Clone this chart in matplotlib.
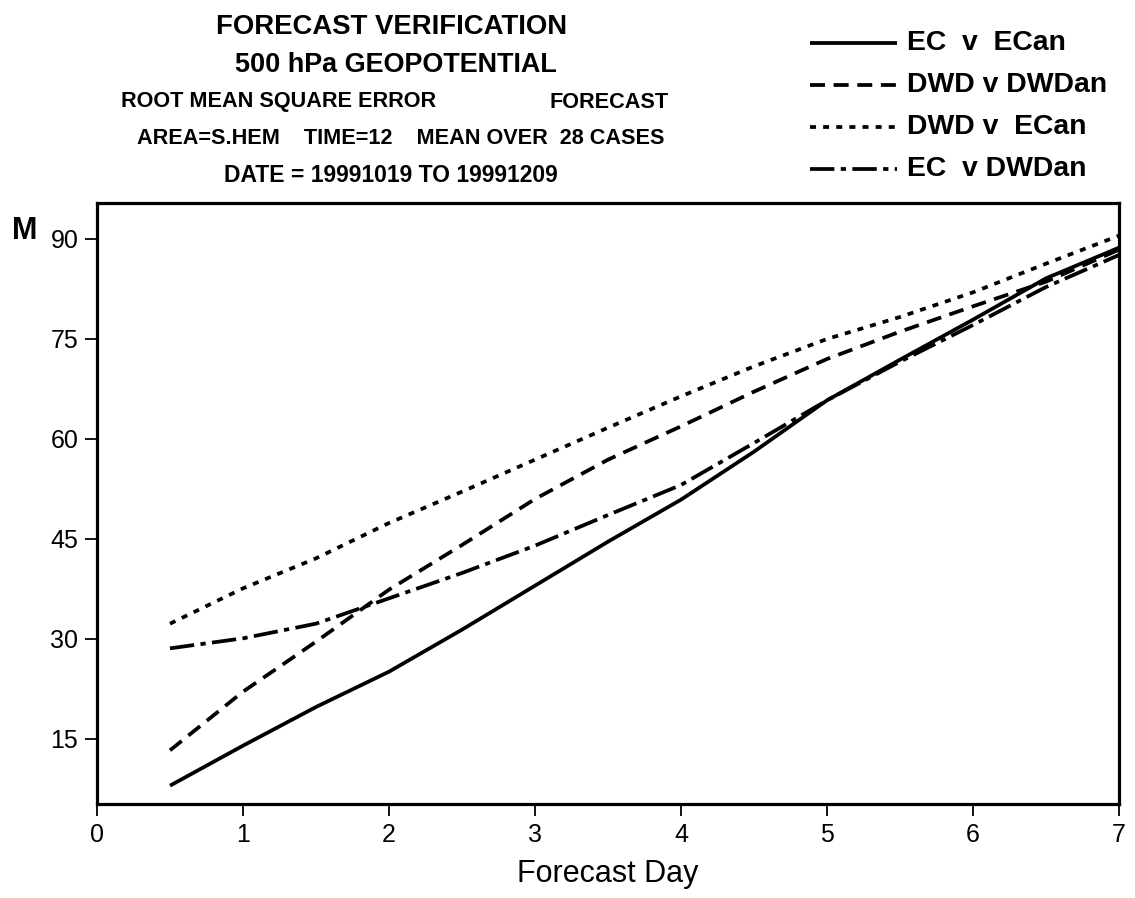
import matplotlib
matplotlib.use("Agg")
import matplotlib.pyplot as plt
from matplotlib.lines import Line2D

# ---------------- data ----------------
days = [0.5, 1, 1.5, 2, 2.5, 3, 3.5, 4, 4.5, 5, 5.5, 6, 6.5, 7]
ec_v_ecan = [8.0, 14.0, 19.8, 25.1, 31.4, 38.0, 44.6, 50.9, 58.1, 65.8, 71.9, 77.9, 84.1, 88.7]
dwd_v_dwdan = [13.3, 22.1, 29.6, 37.4, 44.1, 51.0, 56.9, 61.9, 67.1, 72.0, 76.1, 79.9, 83.6, 88.4]
dwd_v_ecan = [32.3, 37.6, 42.1, 47.4, 52.1, 56.9, 61.7, 66.4, 70.9, 75.0, 78.3, 82.0, 86.3, 90.5]
ec_v_dwdan = [28.6, 30.1, 32.3, 36.1, 39.9, 44.0, 48.6, 53.1, 59.4, 65.8, 71.6, 77.1, 82.8, 87.6]

series_labels = ["EC  v  ECan", "DWD v DWDan", "DWD v  ECan", "EC  v DWDan"]
x_ticks = [0, 1, 2, 3, 4, 5, 6, 7]
y_ticks = [15, 30, 45, 60, 75, 90]

title_lines = ["FORECAST VERIFICATION", "500 hPa GEOPOTENTIAL"]
line3_left = "ROOT MEAN SQUARE ERROR"
line3_right = "FORECAST"
line4 = "AREA=S.HEM    TIME=12    MEAN OVER  28 CASES"
line5 = "DATE = 19991019 TO 19991209"

# ---------------- styling ----------------
W, H = 1135, 898
fig = plt.figure(figsize=(W / 100, H / 100), dpi=100)
reg = ["Liberation Sans", "DejaVu Sans"]
cond = ["Liberation Sans Narrow", "DejaVu Sans Condensed", "Liberation Sans"]

ax = fig.add_axes([97 / W, 1 - 804 / H, (1119 - 97) / W, (804 - 203) / H])

lw = 2.7
styles = [
    "-",
    (0, (4.0, 2.3)),
    (0, (1.6, 1.9)),
    (0, (6.5, 1.7, 1.4, 1.7)),
]
all_series = [ec_v_ecan, dwd_v_dwdan, dwd_v_ecan, ec_v_dwdan]
for ys, ls in zip(all_series, styles):
    ax.plot(days, ys, color="black", lw=lw, linestyle=ls,
            dash_capstyle="butt", solid_capstyle="butt")

ax.set_xlim(0, 7)
ax.set_ylim(5.25, 95.4)
ax.set_xticks(x_ticks)
ax.set_yticks(y_ticks)
for sp in ax.spines.values():
    sp.set_linewidth(2.3)
ax.tick_params(direction="out", length=8.5, width=1.3, pad=5, labelsize=18)
for lab in ax.get_xticklabels() + ax.get_yticklabels():
    lab.set_family(reg)

ax.set_xlabel("Forecast Day", fontsize=22, family=reg, labelpad=9)
fig.text(12 / W, 1 - 239 / H, "M", fontsize=22, fontweight="bold",
         family=reg, ha="left", va="baseline")

renderer = fig.canvas.get_renderer()


def fit_size(s, width, family, weight="bold"):
    t = fig.text(0, 0, s, fontsize=20, fontweight=weight, family=family)
    w = t.get_window_extent(renderer=renderer).width
    t.remove()
    return 20 * width / w


def put(x, y, s, fs, ha="center", family=cond):
    fig.text(x / W, 1 - y / H, s, fontsize=fs, fontweight="bold",
             family=family, ha=ha, va="center")


put(392, 27, title_lines[0], fit_size(title_lines[0], 351, cond))
put(396, 65, title_lines[1], fit_size(title_lines[1], 323, cond))
fs_small = fit_size(line4, 525, cond)
put(121, 102, line3_left, fs_small, ha="left")
put(669, 102, line3_right, fs_small, ha="right")
put(137, 139, line4, fs_small, ha="left")
put(391, 176, line5, fit_size(line5, 333, cond))

# legend (drawn manually in figure pixels)
leg_rows = [43, 85, 127, 169]
leg_fs = fit_size(series_labels[1], 200, reg)
for yrow, lab, ls in zip(leg_rows, series_labels, styles):
    fig.add_artist(Line2D([810 / W, 897 / W], [1 - yrow / H, 1 - yrow / H],
                          transform=fig.transFigure, color="black", lw=lw,
                          linestyle=ls, dash_capstyle="butt",
                          solid_capstyle="butt"))
    fig.text(907 / W, 1 - yrow / H, lab, fontsize=leg_fs, fontweight="bold",
             family=reg, ha="left", va="center")

fig.savefig("out.png", dpi=100)
